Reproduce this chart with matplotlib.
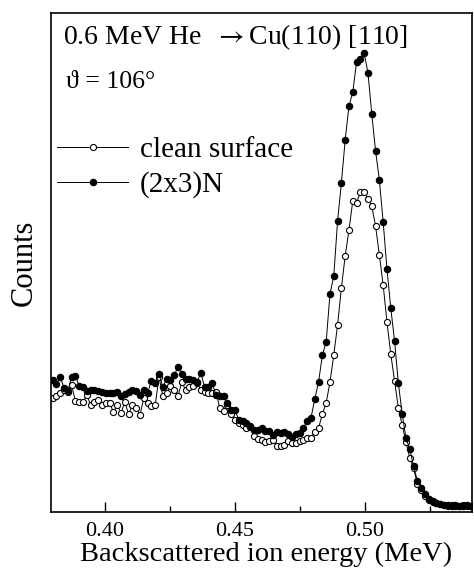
import numpy as np
import matplotlib
matplotlib.use("Agg")
import matplotlib.pyplot as plt
from matplotlib.ticker import MultipleLocator

plt.rcParams['font.family'] = ['Liberation Serif', 'DejaVu Serif']
plt.rcParams['mathtext.fontset'] = 'stix'

# energy channels (MeV)
energy = 0.37982 + 0.001462 * np.arange(111)

# counts (arb. units)
clean = [114, 116, 119, 122, 120, 127, 111, 110, 110, 117, 107, 110, 112, 107, 109,
         109, 100, 107, 99, 110, 98, 107, 104, 97, 114, 109, 106, 107, 135, 116,
         119, 126, 122, 116, 130, 122, 125, 126, 129, 122, 120, 119, 119, 120, 104,
         101, 107, 98, 92, 89, 87, 84, 85, 76, 73, 72, 70, 71, 72, 66,
         66, 67, 71, 69, 69, 71, 72, 74, 74, 80, 84, 98, 109, 130, 157,
         187, 224, 256, 282, 311, 309, 320, 320, 313, 306, 286, 257, 227, 190, 158,
         131, 104, 87, 70, 54, 44, 28, 22, 16, 12, 10, 9, 8, 7, 6,
         7, 6, 6, 7, 6, 6]
n2x3 = [132, 128, 135, 124, 121, 135, 136, 126, 125, 121, 122, 122, 121, 120, 119,
        119, 119, 120, 116, 118, 120, 122, 121, 117, 122, 119, 131, 129, 138, 125,
        133, 132, 137, 145, 138, 133, 133, 132, 130, 139, 125, 125, 129, 117, 116,
        116, 109, 102, 102, 92, 91, 89, 86, 82, 82, 84, 81, 81, 77, 80,
        79, 80, 78, 75, 78, 79, 84, 91, 94, 113, 130, 157, 170, 218, 236,
        291, 329, 372, 406, 420, 450, 453, 459, 439, 398, 361, 332, 290, 243, 204,
        171, 129, 98, 74, 63, 46, 31, 24, 18, 13, 11, 9, 8, 7, 7,
        6, 7, 6, 6, 7, 6]

fig = plt.figure(figsize=(4.74, 5.68), dpi=100)
ax = fig.add_axes([0.1076, 0.0986, 0.8882, 0.8785])

ax.plot(energy, clean, '-o', color='black', lw=0.7, ms=4.4, mfc='white',
        mec='black', mew=0.8, label='clean surface')
ax.plot(energy, n2x3, '-o', color='black', lw=0.7, ms=4.4, mfc='black',
        mec='black', label='(2x3)N')

ax.set_xlim(0.3792, 0.5412)
ax.set_ylim(0, 499)
ax.xaxis.set_major_locator(MultipleLocator(0.05))
ax.xaxis.set_minor_locator(MultipleLocator(0.025))
ax.xaxis.set_major_formatter(matplotlib.ticker.FormatStrFormatter('%.2f'))
ax.set_yticks([])
ax.tick_params(axis='x', which='major', direction='in', length=7, width=1,
               labelsize=16, pad=7)
ax.tick_params(axis='x', which='minor', direction='in', length=4, width=1)
for s in ax.spines.values():
    s.set_linewidth(1.2)

# x label placed by hand, it sits right at the bottom edge
fig.text(0.562, 0.012, 'Backscattered ion energy (MeV)', fontsize=20.5,
         ha='center', va='baseline')
ax.set_ylabel('Counts', fontsize=22, labelpad=9)

ax.text(0.028, 0.952, r'0.6 MeV He  $\rightarrow$Cu(110) [110]', transform=ax.transAxes,
        fontsize=20, va='center', ha='left')
ax.text(0.036, 0.862, 'ϑ = 106°', transform=ax.transAxes, fontsize=18.5,
        va='center', ha='left')

ax.legend(loc='upper left', bbox_to_anchor=(0.014, 0.752), frameon=False,
          fontsize=21, handlelength=2.45, handletextpad=0.4, numpoints=1,
          labelspacing=0.28, borderpad=0, borderaxespad=0)

fig.savefig('out.png', dpi=100)
